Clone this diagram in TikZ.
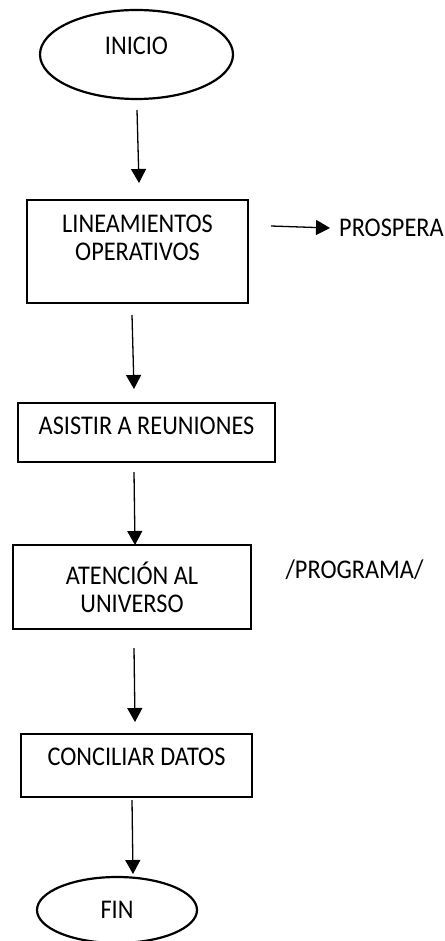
\documentclass[tikz,border=0pt]{standalone}
\usepackage{fontspec}
\setmainfont[FakeStretch=0.9]{Carlito}
\usetikzlibrary{shapes.geometric,arrows.meta}
\begin{document}
\begin{tikzpicture}[x=1pt,y=-1pt,
  box/.style={draw,line width=2.6pt,rectangle,inner sep=0pt,align=center,font=\fontsize{27}{28}\selectfont},
  term/.style={draw,line width=2.2pt,ellipse,inner sep=0pt,font=\fontsize{27}{28}\selectfont},
  lbl/.style={inner sep=0pt,font=\fontsize{27}{28}\selectfont},
  flow/.style={line width=1.3pt,-{Triangle[width=15pt,length=14pt]}}]
\useasboundingbox (0,0) rectangle (444,941);
\node[term,minimum width=193pt,minimum height=89pt,text depth=18pt] (inicio) at (136.5,54.5) {INICIO};
\node[box,minimum width=221pt,minimum height=103pt] (lin) at (137.5,251.5) {LINEAMIENTOS\\OPERATIVOS\\\mbox{}};
\node[box,minimum width=257pt,minimum height=59pt,text depth=14pt] (asis) at (146.5,432.5) {ASISTIR A REUNIONES};
\node[box,minimum width=238pt,minimum height=84pt] (aten) at (132,587) {ATENCIÓN AL\\UNIVERSO};
\node[box,minimum width=231pt,minimum height=63pt,text depth=17pt] (conc) at (136.5,765.5) {CONCILIAR DATOS};
\node[term,minimum width=160pt,minimum height=66pt] (fin) at (117,910) {FIN};
\node[lbl,anchor=west] (prosp) at (339,228) {PROSPERA};
\node[lbl] (prog) at (354.5,570) {/PROGRAMA/};
\coordinate (a1s) at (137,110); \coordinate (a1e) at (139,183);
\coordinate (a2s) at (132,315); \coordinate (a2e) at (134,389);
\coordinate (a3s) at (134,472); \coordinate (a3e) at (135,545);
\coordinate (a4s) at (134,648); \coordinate (a4e) at (135,722);
\coordinate (a5s) at (132,800); \coordinate (a5e) at (133,874);
\coordinate (a6s) at (271,226);
\draw[flow] (a1s) -- (a1e);
\draw[flow] (a2s) -- (a2e);
\draw[flow] (a3s) -- (a3e);
\draw[flow] (a4s) -- (a4e);
\draw[flow] (a5s) -- (a5e);
\draw[flow] (a6s) -- ([xshift=-9pt]prosp.west);
\end{tikzpicture}
\end{document}
